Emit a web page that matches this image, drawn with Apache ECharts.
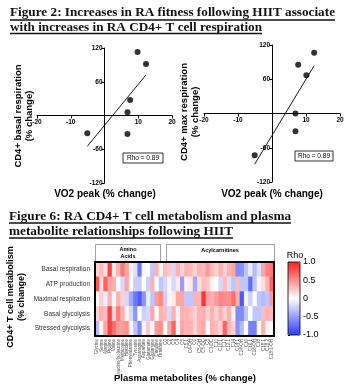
<!DOCTYPE html>
<html><head><meta charset="utf-8">
<script src="https://cdn.jsdelivr.net/npm/echarts@6/dist/echarts.min.js"></script>
<style>html,body{margin:0;padding:0;background:#fff}#c{width:355px;height:387px}</style>
</head><body><div id="c"></div>
<script>
// ---------- Figure 2 data ----------
const basalX = [9.8, 12.3, 7.6, 6.8, -5.1, 6.8];
const basalY = [113, 91.6, 27.6, 5.6, -31.6, -32.9];
const basalFitX = [-5.1, 12.2];
const basalFitY = [-54.8, 71.5];
const maxX = [12.4, 7.7, 10.1, 6.9, 6.9, -5.1];
const maxY = [106.6, 85.5, 66.9, 0, -30.9, -73];
const maxFitX = [-5.1, 12.4];
const maxFitY = [-88.9, 83.8];
const rhoBasal = 'Rho = 0.89';
const rhoMax = 'Rho = 0.89';
const xTicks = [-20, -10, 0, 10, 20];
const yTicks = [-120, -60, 0, 60, 120];

// ---------- Figure 6 data ----------
const metabolismRows = ['Basal respiration', 'ATP production', 'Maximal respiration', 'Basal glycolysis', 'Stressed glycolysis'];
const aminoAcids = ['Glycine', 'Serine', 'Alanine', 'Proline', 'Valine', 'Leucine/Isoleucine', 'Methionine', 'Histidine',
  'Phenylalanine', 'Tyrosine', 'Asparagine', 'Aspartate', 'Glutamate', 'Glutamine', 'Citrulline', 'Ornithine'];
const acylcarnitines = ['C0', 'C2', 'C3', 'C4', 'C5', 'C5:1', 'C4-OH', 'C6', 'C5-OH', 'C5-DC', 'C8', 'C3-DC', 'C10',
  'C10:1', 'C12', 'C12:1', 'C14', 'C14:1', 'C14-OH', 'C16', 'C16:1', 'C16-OH', 'C18', 'C18:1', 'C18:2', 'C18:1-OH'];
const rhoBasalResp = [0.2, 0.3, 0.15, 0.85, 0.1, 0.35, 0.6, 0.4, 0.05, -0.15, -0.7, 0.05, 0.0, -0.3, 0.35, 0.05,
  0.3, 0.25, -0.2, 0.35, 0.2, 0.35, 0.3, 0.2, 0.35, 0.3, 0.45, 0.3, 0.2, 0.35, 0.2, 0.35, 0.4, -0.6, -0.55, -0.3, -0.1, -0.35, -0.15, 0.4, 0.55, 0.6];
const rhoATP = [0.75, 0.15, 0.7, 0.4, 0.35, 0.0, -0.2, 0.4, 0.0, -0.25, -0.25, 0.0, -0.25, 0.35, 0.0, -0.3,
  -0.2, 0.05, -0.2, 0.1, -0.5, 0.05, 0.1, -0.45, 0.15, 0.3, 0.25, 0.05, 0.0, -0.2, 0.3, -0.15, -0.3, 0.3, -0.3, -0.3, -0.75, -0.3, 0.05, 0.15, 0.35, 0.7];
const rhoMaxResp = [0.05, 0.2, -0.1, 0.35, 0.05, 0.35, 0.2, -0.2, -0.45, -0.7, -0.85, -0.55, -0.1, -0.3, 0.45, 0.55,
  -0.25, 0.05, 0.1, 0.4, 0.4, -0.3, -0.3, 0.35, 0.35, 0.9, 0.4, 0.35, 0.45, 0.55, 0.5, 0.5, 0.65, 0.35, -0.85, -0.05, -0.25, 0.0, -0.3, -0.35, -0.3, 0.45];
const rhoBasalGly = [0.2, 0.35, 0.3, 0.85, 0.2, 0.6, 0.35, 0.05, -0.2, -0.55, 0.0, -0.25, -0.2, 0.4, 0.0, 0.35,
  0.3, -0.2, 0.35, 0.05, 0.35, 0.35, 0.3, 0.2, 0.35, 0.35, 0.2, 0.35, 0.2, 0.35, 0.2, 0.35, 0.05, -0.6, -0.6, -0.3, 0.0, -0.3, -0.3, 0.3, 0.35, 0.3];
const rhoStressGly = [-0.35, 0.05, 0.4, 0.85, 0.65, 0.45, 0.45, 0.5, 0.0, -0.3, -0.6, 0.05, 0.25, 0.0, 0.45, 0.5,
  0.0, 0.4, 0.7, 0.05, 0.4, 0.35, 0.35, 0.2, 0.35, 0.4, 0.0, 0.35, 0.3, 0.2, 0.7, 0.3, 0.2, -0.55, -0.35, 0.0, -0.65, -0.65, 0.0, 0.35, 0.05, 0.0];
const colorbarTicks = [-1, -0.5, 0, 0.5, 1];

// ---------- build ----------
const metabolites = aminoAcids.concat(acylcarnitines);
const rhoRows = [rhoBasalResp, rhoATP, rhoMaxResp, rhoBasalGly, rhoStressGly];
const heatData = [];
rhoRows.forEach((row, r) => row.forEach((v, c) => heatData.push([c, r, v])));
const zip = (a, b) => a.map((v, i) => [v, b[i]]);

const SANS = '"Liberation Sans", Arial, sans-serif';
const SERIF = '"Liberation Serif", "Times New Roman", serif';
const ctx = document.createElement('canvas').getContext('2d');
function fit(text, size, target) {
  ctx.font = 'bold ' + size + 'px ' + SERIF;
  return target / ctx.measureText(text).width;
}

function titleLine(text, x, y, target, ulY) {
  return [
    { type: 'text', x: x, y: y, scaleX: fit(text, 13, target), z: 10,
      style: { text: text, fontSize: 13, fontWeight: 'bold', fontFamily: SERIF, fill: '#111', align: 'left', verticalAlign: 'middle' } },
    { type: 'line', z: 10, shape: { x1: x, y1: ulY, x2: x + target, y2: ulY }, style: { stroke: '#111', lineWidth: 1.3 } }
  ];
}

// axes crossing at the origin: shift each axis into the middle of its grid
function scatterAxes(grid, w, h) {
  return {
    x: { type: 'value', gridIndex: grid, min: -20, max: 20, interval: 10, position: 'bottom', offset: -h / 2,
      axisLine: { onZero: false, lineStyle: { color: '#000', width: 1 } },
      axisTick: { show: true, length: 3, lineStyle: { color: '#000' } },
      axisLabel: { fontSize: 6.5, fontWeight: 'bold', color: '#000', fontFamily: SANS, margin: 3, showMinLabel: true, showMaxLabel: true,
        formatter: v => (xTicks.includes(v) && v !== 0) ? String(v) : '' },
      splitLine: { show: false } },
    y: { type: 'value', gridIndex: grid, min: -120, max: 120, interval: 60, position: 'left', offset: -w / 2,
      axisLine: { onZero: false, lineStyle: { color: '#000', width: 1 } },
      axisTick: { show: true, length: 3, lineStyle: { color: '#000' } },
      axisLabel: { fontSize: 6.5, fontWeight: 'bold', color: '#000', fontFamily: SANS, margin: 2, showMinLabel: true, showMaxLabel: true,
        formatter: v => (yTicks.includes(v) && v !== 0) ? String(v) : '' },
      splitLine: { show: false } }
  };
}
const a0 = scatterAxes(0, 135, 135), a1 = scatterAxes(1, 136, 137);

function rhoBox(cx, cy, w, text) {
  return [
    { type: 'rect', z: 10, shape: { x: cx - w / 2, y: cy - 5, width: w, height: 10 }, style: { fill: '#fff', stroke: '#000', lineWidth: 0.8 } },
    { type: 'text', z: 11, x: cx, y: cy, style: { text: text, fontSize: 6.5, fontFamily: SANS, fill: '#000', align: 'center', verticalAlign: 'middle' } }
  ];
}
function vTitle(x, y, text, size) {
  return { type: 'text', x: x, y: y, rotation: Math.PI / 2, z: 10,
    style: { text: text, fontSize: size, fontWeight: 'bold', fontFamily: SANS, fill: '#000', align: 'center', verticalAlign: 'middle', lineHeight: size + 2 } };
}
function hTitle(x, y, text, size) {
  return { type: 'text', x: x, y: y, z: 10,
    style: { text: text, fontSize: size, fontWeight: 'bold', fontFamily: SANS, fill: '#000', align: 'center', verticalAlign: 'middle' } };
}

const graphics = [].concat(
  titleLine('Figure 2: Increases in RA fitness following HIIT associate', 10, 12.5, 325, 20),
  titleLine('with increases in RA CD4+ T cell respiration', 10, 27.5, 252, 33.5),
  titleLine('Figure 6: RA CD4+ T cell metabolism and plasma', 9, 217, 282, 223),
  titleLine('metabolite relationships following HIIT', 9, 232, 224, 238),
  rhoBox(143, 158, 40, rhoBasal),
  rhoBox(314, 156, 38, rhoMax),
  [
    vTitle(24, 116, 'CD4+ basal respiration\n(% change)', 9.5),
    vTitle(190, 112, 'CD4+ max respiration\n(% change)', 9.5),
    hTitle(105, 194, 'VO2 peak (% change)', 10),
    hTitle(272, 194, 'VO2 peak (% change)', 10),
    vTitle(16.5, 297, 'CD4+ T cell metabolism\n(% change)', 9),
    hTitle(185, 378, 'Plasma metabolites (% change)', 9.5),
    // group header boxes
    { type: 'rect', z: 10, shape: { x: 95.5, y: 244.5, width: 65, height: 17.5 }, style: { fill: '#fff', stroke: '#888', lineWidth: 0.8 } },
    { type: 'text', z: 11, x: 128, y: 253, style: { text: 'Amino\nAcids', fontSize: 5.5, fontWeight: 'bold', fontFamily: SANS, fill: '#000', align: 'center', verticalAlign: 'middle', lineHeight: 6.5 } },
    { type: 'rect', z: 10, shape: { x: 166.5, y: 244.5, width: 108, height: 17.5 }, style: { fill: '#fff', stroke: '#888', lineWidth: 0.8 } },
    { type: 'text', z: 11, x: 220, y: 250, style: { text: 'Acylcarnitines', fontSize: 5.5, fontWeight: 'bold', fontFamily: SANS, fill: '#000', align: 'center', verticalAlign: 'middle' } },
    // heatmap border
    { type: 'rect', z: 20, shape: { x: 95, y: 262, width: 179, height: 74 }, style: { fill: 'none', stroke: '#000', lineWidth: 2 } },
    // colorbar border and title
    { type: 'rect', z: 20, shape: { x: 288, y: 262, width: 12, height: 73 }, style: { fill: 'none', stroke: '#000', lineWidth: 0.8 } },
    { type: 'text', z: 11, x: 295, y: 256, style: { text: 'Rho', fontSize: 9, fontFamily: SANS, fill: '#000', align: 'center', verticalAlign: 'middle' } }
  ]
);

const chart = echarts.init(document.getElementById('c'), null, { renderer: 'canvas' });
chart.setOption({
  backgroundColor: '#fff',
  animation: false,
  grid: [
    { left: 37, top: 48, width: 135, height: 135 },
    { left: 204, top: 45, width: 136, height: 137 },
    { left: 95, top: 262, width: 179, height: 74 },
    { left: 288, top: 262, width: 12, height: 73 }
  ],
  xAxis: [
    a0.x, a1.x,
    { type: 'category', gridIndex: 2, data: metabolites,
      axisLine: { show: false }, axisTick: { show: false }, splitArea: { show: false },
      axisLabel: { rotate: 90, interval: 0, fontSize: 4.5, color: '#555', fontFamily: SANS, margin: 3 } },
    { type: 'value', gridIndex: 3, show: false, min: 0, max: 1 }
  ],
  yAxis: [
    a0.y, a1.y,
    { type: 'category', gridIndex: 2, data: metabolismRows, inverse: true,
      axisLine: { show: false }, axisTick: { show: false },
      axisLabel: { fontSize: 6.5, color: '#333', fontFamily: SANS, margin: 5 } },
    { type: 'value', gridIndex: 3, min: -1, max: 1, interval: 0.5, position: 'right',
      axisLine: { show: false }, splitLine: { show: false },
      axisTick: { show: true, length: 2, lineStyle: { color: '#000' } },
      axisLabel: { fontSize: 9, color: '#000', fontFamily: SANS, margin: 3,
        formatter: v => colorbarTicks.includes(v) ? (v === 0 ? '0' : v.toFixed(1)) : '' } }
  ],
  visualMap: {
    type: 'continuous', min: -1, max: 1, seriesIndex: 4, calculable: false,
    left: 288, top: 262, itemWidth: 12, itemHeight: 73, padding: 0, text: ['', ''], textGap: 0,
    inRange: { color: ['#2b3dff', '#ffffff', '#ff1f1f'] }
  },
  series: [
    { type: 'scatter', xAxisIndex: 0, yAxisIndex: 0, data: zip(basalX, basalY), symbolSize: 6, itemStyle: { color: '#000' }, z: 5 },
    { type: 'line', xAxisIndex: 0, yAxisIndex: 0, data: zip(basalFitX, basalFitY), symbol: 'none', lineStyle: { color: '#000', width: 0.9 } },
    { type: 'scatter', xAxisIndex: 1, yAxisIndex: 1, data: zip(maxX, maxY), symbolSize: 6, itemStyle: { color: '#000' }, z: 5 },
    { type: 'line', xAxisIndex: 1, yAxisIndex: 1, data: zip(maxFitX, maxFitY), symbol: 'none', lineStyle: { color: '#000', width: 0.9 } },
    { type: 'heatmap', xAxisIndex: 2, yAxisIndex: 2, data: heatData, itemStyle: { borderWidth: 0 }, emphasis: { disabled: true } },
    { type: 'scatter', xAxisIndex: 3, yAxisIndex: 3, data: [], silent: true }
  ],
  graphic: graphics
});
</script></body></html>
